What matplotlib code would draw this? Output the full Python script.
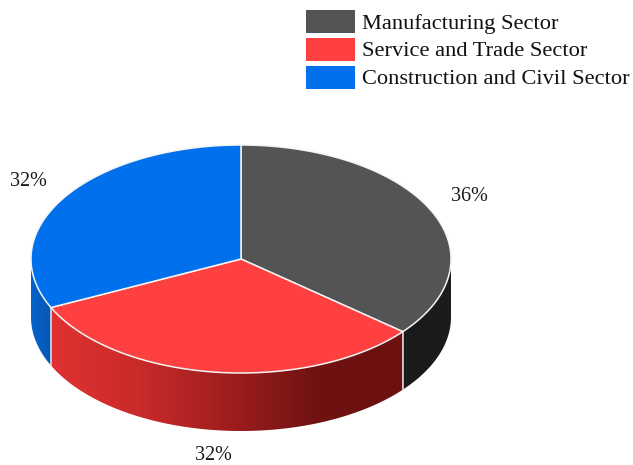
import numpy as np
import matplotlib
matplotlib.use('Agg')
import matplotlib.pyplot as plt
from matplotlib.patches import Polygon, Rectangle
from matplotlib.colors import LinearSegmentedColormap

sectors = ['Manufacturing Sector', 'Service and Trade Sector', 'Construction and Civil Sector']
shares = [36, 32, 32]
top_colors = ['#545454', '#ff4040', '#0070ec']
side_stops = [
    ['#1a1a1a', '#1c1c1c'],
    ['#e03232', '#c92a2a', '#a01e1e', '#701212', '#6c1010'],
    ['#0562cc', '#0858b4'],
]
label_pos = [(469, 196), (213, 455), (28, 181)]

cx, cy = 241, 259
rx, ry = 210, 114
depth = 58

plt.rcParams['font.family'] = ['Liberation Serif', 'DejaVu Serif']

fig = plt.figure(figsize=(6.33, 4.65), dpi=100)
ax = fig.add_axes([0, 0, 1, 1])
ax.set_xlim(0, 633)
ax.set_ylim(465, 0)
ax.axis('off')


def rim(a0, a1, n=200):
    # angles run clockwise from 12 o'clock
    t = np.radians(np.linspace(a0, a1, n))
    return cx + rx * np.sin(t), cy - ry * np.cos(t)


# slice boundaries in degrees
edges = np.concatenate([[0], np.cumsum(shares) / np.sum(shares) * 360])

# outer wall first, only the part facing the viewer (90..270 deg)
for i in range(len(shares)):
    a0, a1 = max(edges[i], 90), min(edges[i + 1], 270)
    if a0 >= a1:
        continue
    x, y = rim(a0, a1)
    pts = np.column_stack([np.r_[x, x[::-1]], np.r_[y, y[::-1] + depth]])
    cmap = LinearSegmentedColormap.from_list('wall', side_stops[i])
    im = ax.imshow(np.linspace(0, 1, 256)[None, :], cmap=cmap, aspect='auto',
                   extent=[x.min(), x.max(), y.max() + depth, y.min()], zorder=2)
    im.set_clip_path(Polygon(pts, transform=ax.transData))
    # white seam where two slices meet on the wall
    if edges[i + 1] < 270:
        ax.plot([x[-1], x[-1]], [y[-1], y[-1] + depth], color='#e8e8e8', lw=1.1, zorder=3)

ax.set_xlim(0, 633)
ax.set_ylim(465, 0)

# top face
for i in range(len(shares)):
    x, y = rim(edges[i], edges[i + 1])
    pts = np.column_stack([np.r_[cx, x], np.r_[cy, y]])
    ax.add_patch(Polygon(pts, closed=True, facecolor=top_colors[i], edgecolor='#f4f4f4',
                         lw=1.1, joinstyle='round', zorder=4))

for i in range(len(shares)):
    ax.text(label_pos[i][0], label_pos[i][1], f'{shares[i]}%', fontsize=14.5, color='#1a1a1a',
            ha='center', va='center', zorder=5)

# legend is laid out by hand above the pie
for i, name in enumerate(sectors):
    ax.add_patch(Rectangle((306, 10 + 28 * i), 49, 23, facecolor=top_colors[i], edgecolor='none', zorder=5))
    ax.text(362, 24 + 28 * i, name, fontsize=16.1, color='#111111', ha='left', va='center', zorder=5)

fig.savefig('out.png', dpi=100, facecolor='white')
